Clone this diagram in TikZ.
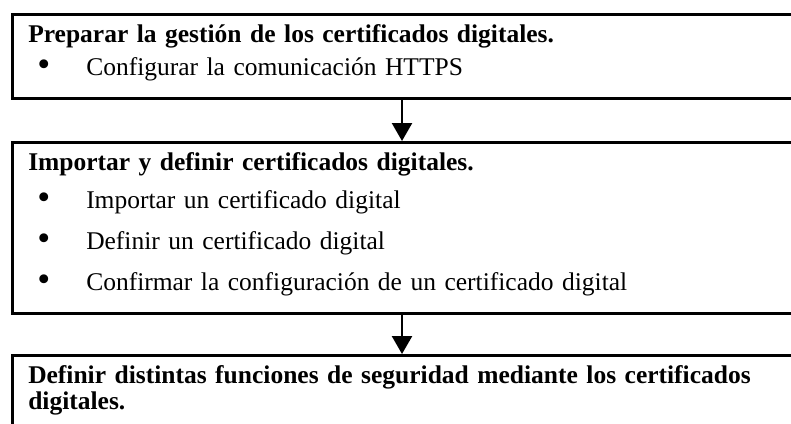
\documentclass[tikz,border=0pt]{standalone}
\usepackage{fontspec}
\setmainfont{Liberation Serif}
\usetikzlibrary{arrows.meta}

\newcommand{\bulletline}[1]{\hspace*{9pt}\makebox[49pt][l]{\raisebox{-1.5pt}{\scalebox{1.45}{\textbullet}}}#1}
\newcommand{\toprule}{\rule{0pt}{28pt}}
\newcommand{\botrule}{\rule[-23pt]{0pt}{23pt}}

\begin{document}
\begin{tikzpicture}[
  x=1pt, y=-1pt,
  box/.style={draw=black, line width=2.5pt, anchor=north west, inner xsep=16pt, inner ysep=0pt,
    text width=784pt, align=left, font=\fontsize{25.5}{33}\selectfont},
  arrow/.style={line width=2.5pt, -{Triangle[length=18pt,width=20pt]}}
]
  \useasboundingbox (0,0) rectangle (791,423);

  \node (prepare) [box] at (11,13) {\toprule\textbf{Preparar la gestión de los certificados digitales.}\\
    \bulletline{Configurar la comunicación HTTPS}\botrule};
  \node (import) [box] at (11,141) {\toprule\textbf{Importar y definir certificados digitales.}\\[5pt]
    \bulletline{Importar un certificado digital}\\[8pt]
    \bulletline{Definir un certificado digital}\\[8pt]
    \bulletline{Confirmar la configuración de un certificado digital}\botrule};
  \node (security) [box, font=\fontsize{25.5}{26.5}\selectfont] at (11,354) {\toprule\textbf{Definir distintas funciones de seguridad mediante los certificados}\\
    \textbf{digitales.}\botrule};

  \coordinate (spine) at (402,0);
  \draw [arrow] (prepare.south -| spine) -- (import.north -| spine);
  \draw [arrow] (import.south -| spine) -- (security.north -| spine);
\end{tikzpicture}
\end{document}
